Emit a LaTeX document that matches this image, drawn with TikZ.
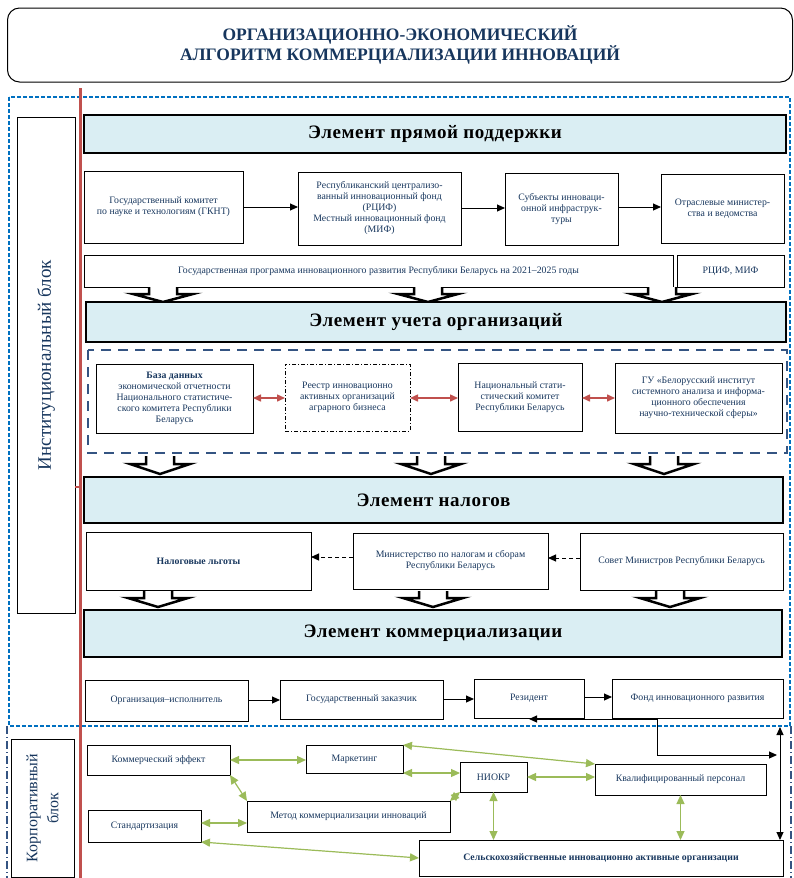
\documentclass[tikz,border=0pt]{standalone}
\usepackage{fontspec}
\setmainfont{Liberation Serif}
\usetikzlibrary{arrows.meta}
\definecolor{navy}{RGB}{23,54,93}
\definecolor{elemfill}{RGB}{218,238,243}
\definecolor{outerblue}{RGB}{0,112,192}
\definecolor{groupblue}{RGB}{52,84,130}
\definecolor{redline}{RGB}{192,80,77}
\definecolor{greenarr}{RGB}{155,187,89}
\begin{document}
\begin{tikzpicture}[x=1pt,y=-1pt,
    box/.style={draw,line width=1pt,align=center,inner sep=1pt,outer sep=0pt,text=navy,font=\fontsize{9.8}{11}\selectfont},
    elem/.style={draw,line width=1.6pt,fill=elemfill,outer sep=0pt,font=\bfseries\fontsize{19}{21}\selectfont\addfontfeature{LetterSpace=3}},
    arr/.style={-{Triangle[length=8pt,width=7pt]},line width=1pt},
    dasharr/.style={-{Triangle[length=8pt,width=7pt]},line width=1pt,dash pattern=on 4pt off 3pt},
    redarr/.style={{Triangle[length=8pt,width=7pt]}-{Triangle[length=8pt,width=7pt]},line width=1.5pt,draw=redline,fill=redline},
    greenarr/.style={{Triangle[length=9pt,width=8pt]}-{Triangle[length=9pt,width=8pt]},line width=1.2pt,draw=greenarr,fill=greenarr},
    darr/.style={{Triangle[length=8pt,width=7pt]}-{Triangle[length=8pt,width=7pt]},line width=1pt},
    harr/.style={draw=black,fill=white,line width=2.5pt,line join=miter}
]
\useasboundingbox (0,0) rectangle (793,878);
% title
\node[draw,rounded corners=12pt,line width=1pt,minimum width=785pt,minimum height=74pt,align=center,text=navy,font=\bfseries\fontsize{17.5}{18}\selectfont] (title) at (400,45) {ОРГАНИЗАЦИОННО-ЭКОНОМИЧЕСКИЙ\\АЛГОРИТМ КОММЕРЦИАЛИЗАЦИИ ИННОВАЦИЙ};
% blocks
\draw[outerblue,line width=1.2pt,dash pattern=on 4pt off 2pt] (9,97) rectangle (790,726);
\draw[groupblue,line width=1.2pt,dash pattern=on 8pt off 3pt on 1pt off 3pt] (7,726) -- (7,878);
\draw[groupblue,line width=2pt,dash pattern=on 8pt off 3pt on 1pt off 3pt] (791,726) -- (791,878);
\draw[redline,line width=3pt] (80,88) -- (80,878);
\node[draw,line width=1pt,rotate=90,minimum width=496pt,minimum height=58pt,outer sep=0pt,text=navy,font=\fontsize{19}{21}\selectfont] (inst) at (46,365) {Институциональный блок};
\node[draw,line width=1pt,rotate=90,minimum width=138pt,minimum height=63pt,outer sep=0pt,align=center,text=navy,font=\fontsize{16}{21}\selectfont] (corp) at (42.5,808) {Корпоративный\\блок};
\draw[redline,line width=1.5pt] (inst.south |- 0,487) -- (80,487);

% element of direct support
\node[elem,minimum width=702pt,minimum height=38pt] (el1) at (435,134) {Элемент прямой поддержки};
\node[box,minimum width=159pt,minimum height=72pt] (gknt) at (163.5,207) {Государственный комитет\\по науке и технологиям (ГКНТ)};
\node[box,minimum width=163pt,minimum height=73pt] (rcif) at (379.5,208.5) {Республиканский централизо-\\ванный инновационный фонд\\(РЦИФ)\\Местный инновационный фонд\\(МИФ)};
\node[box,minimum width=113pt,minimum height=72pt] (subj) at (561.5,209) {Субъекты инноваци-\\онной инфраструк-\\туры};
\node[box,minimum width=123pt,minimum height=69pt] (otr) at (722.5,208.5) {Отраслевые министер-\\ства и ведомства};
\node[box,minimum width=589pt,minimum height=32pt] (prog) at (378.5,271) {Государственная программа инновационного развития Республики Беларусь на 2021--2025 годы};
\node[box,minimum width=107pt,minimum height=32pt] (rcifmif) at (730.5,271) {РЦИФ, МИФ};
\draw[arr] (gknt.east) -- (gknt.east -| rcif.west);
\draw[arr] (rcif.east |- 0,208) -- (subj.west |- 0,208);
\draw[arr] (subj.east |- 0,207) -- (otr.west |- 0,207);
\foreach \x in {163,428,662}
  \draw[harr] (\x-14,287) -- (\x-14,294) -- (\x-30,294) -- (\x,302) -- (\x+30,294) -- (\x+14,294) -- (\x+14,287);

% element of accounting
\node[elem,minimum width=700pt,minimum height=40pt] (el2) at (436,322) {Элемент учета организаций};
\draw[groupblue,line width=2.5pt,dash pattern=on 10pt off 7pt] (88,350) rectangle (787,453);
\node[box,minimum width=157pt,minimum height=69pt] (bd) at (174.5,398.5) {\textbf{База данных}\\экономической отчетности\\Национального статистиче-\\ского комитета Республики\\Беларусь};
\node[box,minimum width=125pt,minimum height=67pt,dash pattern=on 4pt off 2pt on 1pt off 2pt] (reestr) at (347.5,397.5) {Реестр инновационно\\активных организаций\\аграрного бизнеса};
\node[box,minimum width=124pt,minimum height=68pt] (nsk) at (520,397) {Национальный стати-\\стический комитет\\Республики Беларусь};
\node[box,minimum width=167pt,minimum height=70pt] (gu) at (698.5,398) {ГУ «Белорусский институт\\системного анализа и информа-\\ционного обеспечения\\научно-технической сферы»};
\draw[redarr] (bd.east |- 0,398) -- (reestr.west |- 0,398);
\draw[redarr] (reestr.east |- 0,398) -- (nsk.west |- 0,398);
\draw[redarr] (nsk.east |- 0,398) -- (gu.west |- 0,398);
\foreach \x in {160,431,664}
  \draw[harr] (\x-14,456) -- (\x-14,464) -- (\x-30,464) -- (\x,474) -- (\x+30,464) -- (\x+14,464) -- (\x+14,456);

% element of taxes
\node[elem,minimum width=699pt,minimum height=46pt] (el3) at (433.5,500) {Элемент налогов};
\node[box,minimum width=225pt,minimum height=58pt,font=\bfseries\fontsize{9.8}{11}\selectfont] (lgoty) at (198.5,561) {Налоговые льготы};
\node[box,minimum width=195pt,minimum height=56pt] (mns) at (450.5,561) {Министерство по налогам и сборам\\Республики Беларусь};
\node[box,minimum width=203pt,minimum height=57pt] (sovmin) at (681.5,561.5) {Совет Министров Республики Беларусь};
\draw[dasharr] (mns.west |- 0,557) -- (lgoty.east |- 0,557);
\draw[dasharr] (sovmin.west |- 0,558) -- (mns.east |- 0,558);
\foreach \x in {158,433,670}
  \draw[harr] (\x-14,591) -- (\x-14,598) -- (\x-30,598) -- (\x,607) -- (\x+30,598) -- (\x+14,598) -- (\x+14,591);

% element of commercialization
\node[elem,minimum width=698pt,minimum height=47pt] (el4) at (433,633.5) {Элемент коммерциализации};
\node[box,minimum width=163pt,minimum height=41pt] (isp) at (166.5,700.5) {Организация--исполнитель};
\node[box,minimum width=163pt,minimum height=39pt] (zak) at (361.5,699.5) {Государственный заказчик};
\node[box,minimum width=110pt,minimum height=39pt] (rez) at (529,698.5) {Резидент};
\node[box,minimum width=171pt,minimum height=39pt] (fond) at (697.5,698.5) {Фонд инновационного развития};
\draw[arr] (isp.east |- 0,700) -- (zak.west |- 0,700);
\draw[arr] (zak.east |- 0,699) -- (rez.west |- 0,699);
\draw[arr] (rez.east |- 0,697) -- (fond.west |- 0,697);

% corporate block
\node[box,minimum width=143pt,minimum height=30pt] (effect) at (158.5,760) {Коммерческий эффект};
\node[box,minimum width=97pt,minimum height=28pt] (market) at (354.5,759) {Маркетинг};
\node[box,minimum width=67pt,minimum height=30pt] (niokr) at (493.5,777) {НИОКР};
\node[box,minimum width=171pt,minimum height=31pt] (kadry) at (680.5,779.5) {Квалифицированный персонал};
\node[box,minimum width=203pt,minimum height=31pt] (metod) at (348.5,816.5) {Метод коммерциализации инноваций};
\node[box,minimum width=113pt,minimum height=32pt] (standart) at (144.5,826) {Стандартизация};
\node[box,minimum width=364pt,minimum height=36pt,font=\bfseries\fontsize{9.8}{11}\selectfont] (agro) at (601,858) {Сельскохозяйственные инновационно активные организации};

\coordinate (fj) at (657,719);
\coordinate (bend) at (657,755);
\coordinate (vtop) at (780,727);
\draw[arr] (fj) -- (fj -| rez.south);
\draw[arr] (fj) -- (bend) -- ([xshift=-3pt]bend -| vtop);
\draw[darr] (vtop) -- (vtop |- agro.north);

\draw[greenarr] (effect.east) -- (effect.east -| market.west);
\draw[greenarr] (effect.south east) -- (metod.north west);
\draw[greenarr] (market.south east) -- (market.south east -| niokr.west);
\draw[greenarr] (market.north east) -- (kadry.north west);
\draw[greenarr] (niokr.east) -- (niokr.east -| kadry.west);
\draw[greenarr] (metod.north east) -- (niokr.south west);
\draw[greenarr] (niokr.south) -- (niokr.south |- agro.north);
\draw[greenarr] (kadry.south) -- (kadry.south |- agro.north);
\draw[greenarr] (standart.east |- 0,823) -- (metod.west |- 0,823);
\draw[greenarr] (standart.south east) -- (agro.west);
\end{tikzpicture}
\end{document}
